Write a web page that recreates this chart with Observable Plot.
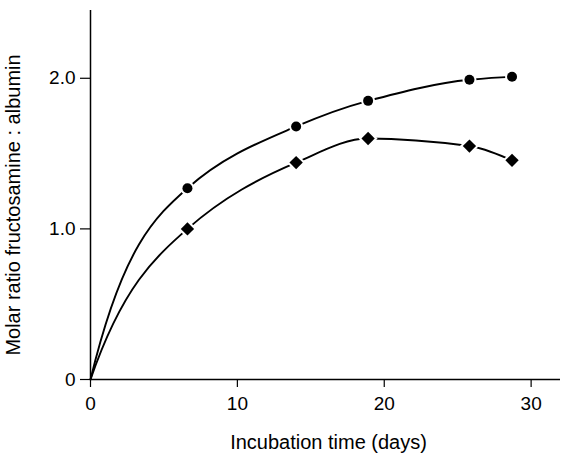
<!DOCTYPE html>
<html>
<head>
<meta charset="utf-8">
<script src="https://cdn.jsdelivr.net/npm/d3@7"></script>
<script src="https://cdn.jsdelivr.net/npm/@observablehq/plot@0.6"></script>
<style>
  html, body { margin: 0; padding: 0; background: #fff; }
  #chart svg { display: block; }
</style>
</head>
<body>
<div id="chart"></div>
<script>
// Incubation time (days) at each measurement
const days = [6.6, 14.0, 18.9, 25.8, 28.7];
// Series drawn with filled circles
const circleRatio = [1.27, 1.68, 1.85, 1.99, 2.01];
// Series drawn with filled diamonds
const diamondRatio = [1.00, 1.44, 1.60, 1.55, 1.455];
// Axis ticks
const xTicks = [0, 10, 20, 30];
const yTicks = [0, 1, 2];
const xLabel = "Incubation time (days)";
const yLabel = "Molar ratio fructosamine : albumin";

const circles = days.map((d, i) => ({x: d, y: circleRatio[i]}));
const diamonds = days.map((d, i) => ({x: d, y: diamondRatio[i]}));
// curves start at the origin
const circleLine = [{x: 0, y: 0}, ...circles];
const diamondLine = [{x: 0, y: 0}, ...diamonds];

// Shape-preserving piecewise cubic Hermite curve factory for d3/Plot lines.
// Start condition: no curvature at the first interior node (gives the
// saturating rise from the origin), end condition: three-point PCHIP.
function smoothCurve(context) {
  let xs, ys;
  const edge = (h0, h1, s0, s1) => {
    let d = ((2 * h0 + h1) * s0 - h0 * s1) / (h0 + h1);
    if (Math.sign(d) !== Math.sign(s0)) d = 0;
    else if (Math.sign(s0) !== Math.sign(s1) && Math.abs(d) > Math.abs(3 * s0)) d = 3 * s0;
    return d;
  };
  return {
    areaStart() {}, areaEnd() {},
    lineStart() { xs = []; ys = []; },
    point(x, y) { xs.push(+x); ys.push(+y); },
    lineEnd() {
      const n = xs.length;
      if (!n) return;
      context.moveTo(xs[0], ys[0]);
      if (n === 1) return;
      if (n === 2) { context.lineTo(xs[1], ys[1]); return; }
      const h = [], s = [];
      for (let i = 0; i < n - 1; i++) { h[i] = xs[i + 1] - xs[i]; s[i] = (ys[i + 1] - ys[i]) / h[i]; }
      const d = new Array(n);
      for (let i = 1; i < n - 1; i++) {
        if (s[i - 1] * s[i] <= 0) d[i] = 0;
        else {
          const w1 = 2 * h[i] + h[i - 1], w2 = h[i] + 2 * h[i - 1];
          d[i] = (w1 + w2) / (w1 / s[i - 1] + w2 / s[i]);
        }
      }
      let d0 = 3 * s[0] - 2 * d[1];
      if (Math.sign(d0) !== Math.sign(s[0])) d0 = 0;
      else if (Math.abs(d0) > Math.abs(3 * s[0])) d0 = 3 * s[0];
      d[0] = d0;
      d[n - 1] = edge(h[n - 2], h[n - 3], s[n - 2], s[n - 3]);
      for (let i = 0; i < n - 1; i++) {
        context.bezierCurveTo(
          xs[i] + h[i] / 3, ys[i] + d[i] * h[i] / 3,
          xs[i + 1] - h[i] / 3, ys[i + 1] - d[i + 1] * h[i] / 3,
          xs[i + 1], ys[i + 1]
        );
      }
    }
  };
}

const font = "'Liberation Sans', Arial, Helvetica, sans-serif";

const chart = Plot.plot({
  width: 561,
  height: 453,
  marginLeft: 90,
  marginRight: 1,
  marginTop: 10,
  marginBottom: 74,
  style: {fontFamily: font, fontSize: "19px", color: "#000", background: "#fff"},
  x: {domain: [0, 32]},
  y: {domain: [0, 2.45]},
  marks: [
    Plot.line(circleLine, {x: "x", y: "y", curve: smoothCurve, stroke: "#000", strokeWidth: 1.9}),
    Plot.line(diamondLine, {x: "x", y: "y", curve: smoothCurve, stroke: "#000", strokeWidth: 1.9}),
    Plot.ruleX([0], {stroke: "#000", strokeWidth: 1.5}),
    Plot.ruleY([0], {stroke: "#000", strokeWidth: 1.5}),
    Plot.axisX({ticks: xTicks, tickSize: 8, tickPadding: 9, label: null, tickFormat: d => String(d), fontSize: 19, stroke: "#000", strokeWidth: 1.2}),
    Plot.axisY({ticks: yTicks, tickSize: 10, tickPadding: 5, label: null, tickFormat: d => d === 0 ? "0" : d.toFixed(1), fontSize: 19, stroke: "#000", strokeWidth: 1.2}),
    Plot.dot(circles, {x: "x", y: "y", r: 5, symbol: "circle", fill: "#000", stroke: "#fff", strokeWidth: 4, paintOrder: "stroke"}),
    Plot.dot(diamonds, {x: "x", y: "y", r: 6, symbol: "diamond2", fill: "#000", stroke: "#fff", strokeWidth: 4, paintOrder: "stroke"}),
    Plot.text([xLabel], {frameAnchor: "bottom", text: d => d, dy: 63, dx: 3, lineAnchor: "middle", fontSize: 20, fill: "#000"}),
    Plot.text([yLabel], {frameAnchor: "left", text: d => d, rotate: -90, dx: -77, dy: 10, textAnchor: "middle", lineAnchor: "middle", fontSize: 20, fill: "#000"})
  ]
});
document.getElementById("chart").appendChild(chart);
</script>
</body>
</html>
